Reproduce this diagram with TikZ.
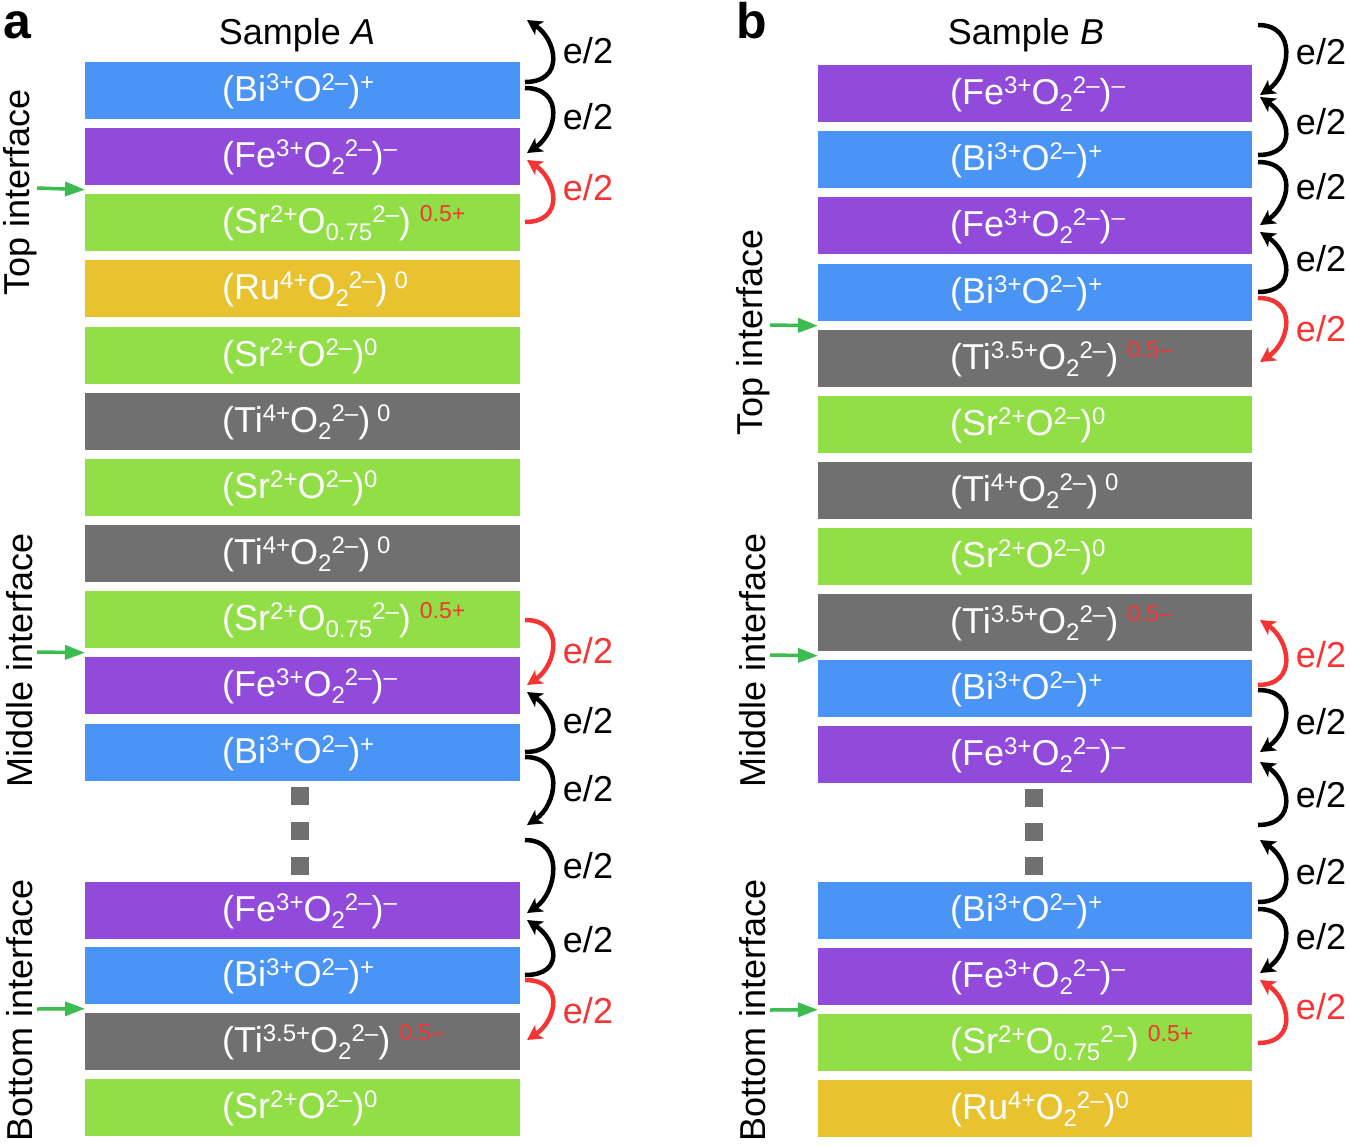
\documentclass[tikz,border=0pt]{standalone}
\usepackage{fontspec}
\setmainfont{Liberation Sans}
\usetikzlibrary{arrows.meta,calc}
\definecolor{cBlue}{RGB}{74,148,245}
\definecolor{cPurple}{RGB}{145,74,217}
\definecolor{cGreen}{RGB}{145,222,70}
\definecolor{cYellow}{RGB}{233,194,48}
\definecolor{cGray}{RGB}{112,112,112}
\definecolor{eRed}{RGB}{245,52,52}
\definecolor{aGreen}{RGB}{60,187,80}

\newcommand\xsup[1]{\raisebox{11pt}{\fontsize{24}{24}\selectfont #1}}
\newcommand\xsub[1]{\raisebox{-7pt}{\fontsize{24}{24}\selectfont #1}}
\newcommand\rsup[1]{\raisebox{12pt}{\fontsize{23}{23}\selectfont\color{eRed}#1}}
\newcommand\LBi{(Bi\xsup{3+}O\xsup{2–})\xsup{+}}
\newcommand\LFe{(Fe\xsup{3+}O\xsub{2}\xsup{2–})\xsup{–}}
\newcommand\LSrh{(Sr\xsup{2+}O\xsub{0.75}\xsup{2–})\hspace{9pt}\rsup{0.5+}}
\newcommand\LSr{(Sr\xsup{2+}O\xsup{2–})\xsup{0}}
\newcommand\LTi{(Ti\xsup{4+}O\xsub{2}\xsup{2–})\hspace{7pt}\xsup{0}}
\newcommand\LTih{(Ti\xsup{3.5+}O\xsub{2}\xsup{2–})\hspace{9pt}\rsup{0.5–}}
\newcommand\LRuA{(Ru\xsup{4+}O\xsub{2}\xsup{2–})\hspace{7pt}\xsup{0}}
\newcommand\LRuB{(Ru\xsup{4+}O\xsub{2}\xsup{2–})\xsup{0}}

\tikzset{
  layer/.style={draw=none, minimum height=57pt, inner sep=0pt, anchor=north west},
  ltxt/.style={text=white, font=\fontsize{36}{40}\selectfont, anchor=base west, inner sep=0pt},
  earc/.style={line width=4.5pt, -{Stealth[length=15pt,width=16pt,inset=4pt]}},
  elbl/.style={font=\fontsize{36}{40}\selectfont, inner sep=0pt},
  garrow/.style={draw=aGreen, line width=3.5pt, -{Triangle[length=20pt,width=14pt]}},
  sidelbl/.style={rotate=90, font=\fontsize{36}{40}\selectfont, inner sep=0pt},
  title/.style={font=\fontsize{36}{40}\selectfont, anchor=base, inner sep=0pt},
  panel/.style={font=\fontsize{50}{50}\selectfont\bfseries, anchor=base west, inner sep=0pt},
  dotsq/.style={fill=cGray, minimum width=18pt, minimum height=18pt, inner sep=0pt}
}

\newcommand\layerA[4]{\node[layer, minimum width=435pt, fill=#3] (#1) at (85,#2) {};
  \node[ltxt] (#1t) at (222,#2+39.5) {#4};}
\newcommand\layerB[4]{\node[layer, minimum width=434pt, fill=#3] (#1) at (818,#2) {};
  \node[ltxt] (#1t) at (950,#2+39.5) {#4};}
% up arc: name, colour, x, y start (lower), y end (upper), label y
\newcommand\eUp[6]{\coordinate (#1s) at (#3,#4); \coordinate (#1e) at (#3+2,#5);
  \draw[earc, #2] (#1s) .. controls ($(#1s)+(40,0)$) and ($(#1e)+(30,20)$) .. (#1e);
  \node[elbl, text=#2] (#1l) at (#3+63,#6) {e/2};}
\newcommand\eDn[6]{\coordinate (#1s) at (#3,#4); \coordinate (#1e) at (#3+2,#5);
  \draw[earc, #2] (#1s) .. controls ($(#1s)+(40,0)$) and ($(#1e)+(30,-20)$) .. (#1e);
  \node[elbl, text=#2] (#1l) at (#3+63,#6) {e/2};}

\begin{document}
\begin{tikzpicture}[x=1pt, y=-1pt]
\useasboundingbox (0,0) rectangle (1350,1146);

% ---------- panel a ----------
\node[panel] (pa) at (3,38) {a};
\node[title] (tA) at (297,44) {Sample \textit{A}};
\layerA{a1}{62}{cBlue}{\LBi}
\layerA{a2}{128}{cPurple}{\LFe}
\layerA{a3}{194}{cGreen}{\LSrh}
\layerA{a4}{260}{cYellow}{\LRuA}
\layerA{a5}{327}{cGreen}{\LSr}
\layerA{a6}{393}{cGray}{\LTi}
\layerA{a7}{459}{cGreen}{\LSr}
\layerA{a8}{525}{cGray}{\LTi}
\layerA{a9}{591}{cGreen}{\LSrh}
\layerA{a10}{657}{cPurple}{\LFe}
\layerA{a11}{724}{cBlue}{\LBi}
\layerA{a12}{882}{cPurple}{\LFe}
\layerA{a13}{947}{cBlue}{\LBi}
\layerA{a14}{1013}{cGray}{\LTih}
\layerA{a15}{1079}{cGreen}{\LSr}
\node[dotsq] (ad1) at (300,796) {};
\node[dotsq] (ad2) at (300,831) {};
\node[dotsq] (ad3) at (300,866) {};

\node[sidelbl] (aTop) at (20,192) {Top interface};
\node[sidelbl] (aMid) at (20,660) {Middle interface};
\node[sidelbl] (aBot) at (20,1010) {Bottom interface};
\coordinate (ga1) at (37,188);
\coordinate (ga2) at (37,652);
\coordinate (ga3) at (37,1009);
\draw[garrow] (ga1) -- ($(a2.south west)!0.5!(a3.north west)$);
\draw[garrow] (ga2) -- ($(a9.south west)!0.5!(a10.north west)$);
\draw[garrow] (ga3) -- ($(a13.south west)!0.5!(a14.north west)$);

\eUp{ea1}{black}{525}{82}{20}{51}
\eDn{ea2}{black}{525}{88}{153}{117}
\eUp{ea3}{eRed}{525}{222}{160}{188}
\eDn{ea4}{eRed}{525}{620}{685}{651}
\eUp{ea5}{black}{525}{752}{692}{721}
\eDn{ea6}{black}{525}{757}{825}{789}
\eDn{ea7}{black}{525}{840}{913}{866}
\eUp{ea8}{black}{525}{975}{920}{940}
\eDn{ea9}{eRed}{525}{980}{1040}{1011}

% ---------- panel b ----------
\node[panel] (pb) at (736,38) {b};
\node[title] (tB) at (1026,44) {Sample \textit{B}};
\layerB{b1}{65}{cPurple}{\LFe}
\layerB{b2}{131}{cBlue}{\LBi}
\layerB{b3}{197}{cPurple}{\LFe}
\layerB{b4}{264}{cBlue}{\LBi}
\layerB{b5}{330}{cGray}{\LTih}
\layerB{b6}{396}{cGreen}{\LSr}
\layerB{b7}{462}{cGray}{\LTi}
\layerB{b8}{528}{cGreen}{\LSr}
\layerB{b9}{594}{cGray}{\LTih}
\layerB{b10}{660}{cBlue}{\LBi}
\layerB{b11}{726}{cPurple}{\LFe}
\layerB{b12}{882}{cBlue}{\LBi}
\layerB{b13}{948}{cPurple}{\LFe}
\layerB{b14}{1014}{cGreen}{\LSrh}
\layerB{b15}{1080}{cYellow}{\LRuB}
\node[dotsq] (bd1) at (1034,798) {};
\node[dotsq] (bd2) at (1034,832) {};
\node[dotsq] (bd3) at (1034,866) {};

\node[sidelbl] (bTop) at (753,332) {Top interface};
\node[sidelbl] (bMid) at (753,660) {Middle interface};
\node[sidelbl] (bBot) at (753,1010) {Bottom interface};
\coordinate (gb1) at (770,325);
\coordinate (gb2) at (770,655);
\coordinate (gb3) at (770,1010);
\draw[garrow] (gb1) -- ($(b4.south west)!0.5!(b5.north west)$);
\draw[garrow] (gb2) -- ($(b9.south west)!0.5!(b10.north west)$);
\draw[garrow] (gb3) -- ($(b13.south west)!0.5!(b14.north west)$);

\eDn{eb1}{black}{1258}{25}{95}{52}
\eUp{eb2}{black}{1258}{155}{97}{122}
\eDn{eb3}{black}{1258}{162}{225}{187}
\eUp{eb4}{black}{1258}{292}{232}{259}
\eDn{eb5}{eRed}{1258}{298}{362}{329}
\eUp{eb6}{eRed}{1258}{685}{620}{655}
\eDn{eb7}{black}{1258}{690}{752}{722}
\eUp{eb8}{black}{1258}{825}{762}{795}
\eUp{eb9}{black}{1258}{902}{840}{872}
\eDn{eb10}{black}{1258}{909}{973}{937}
\eUp{eb11}{eRed}{1258}{1043}{980}{1007}
\end{tikzpicture}
\end{document}
